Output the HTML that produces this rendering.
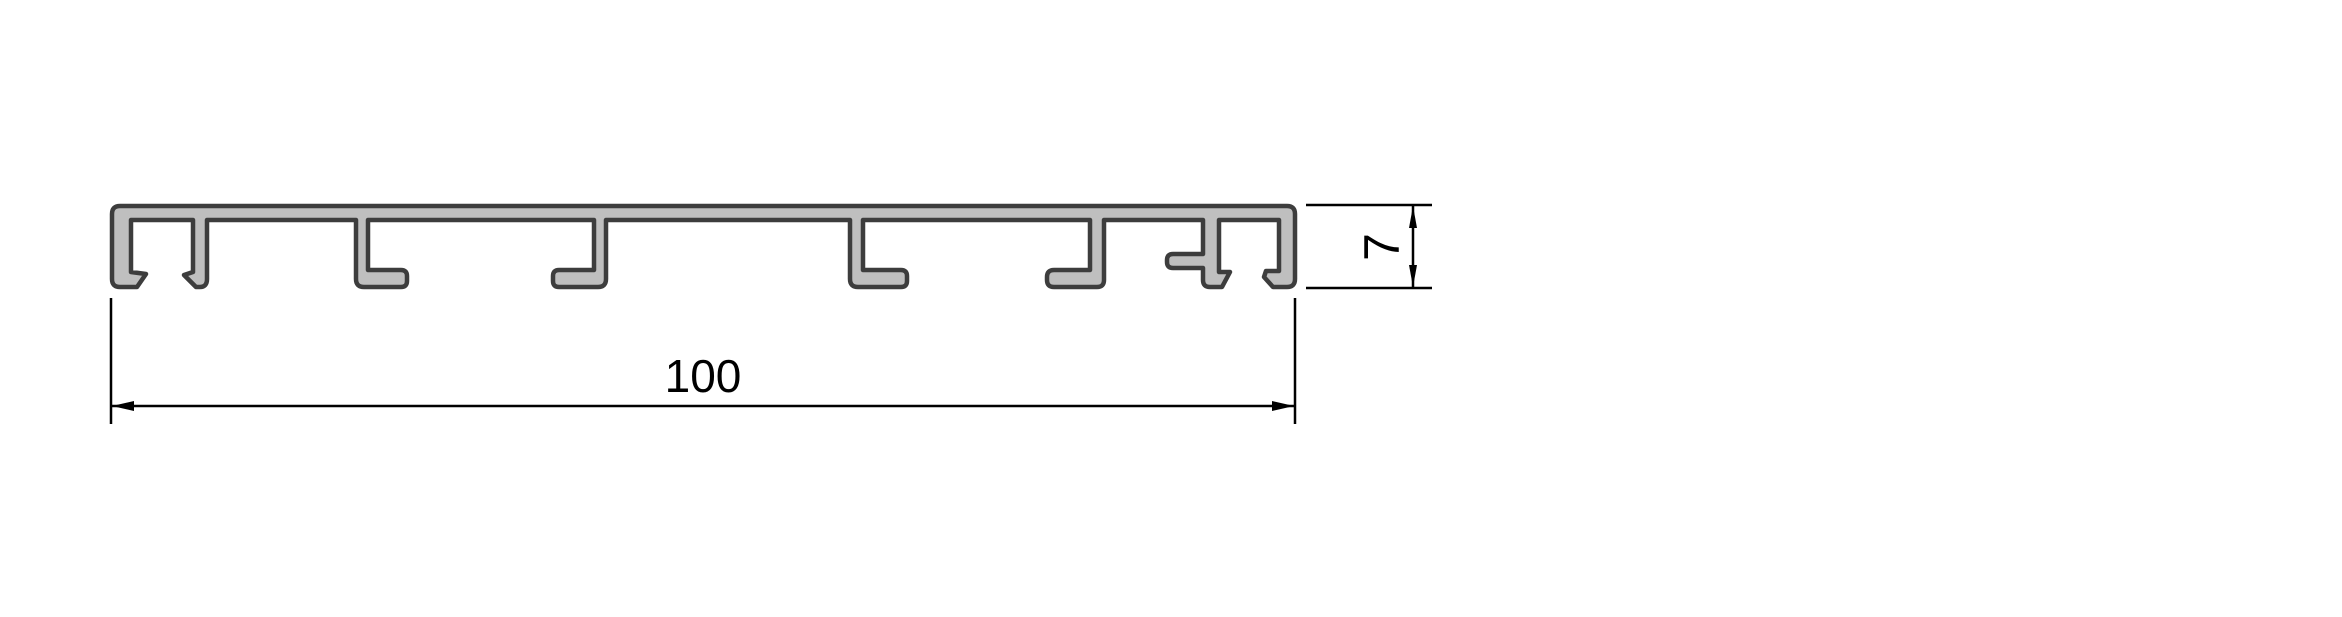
<!DOCTYPE html>
<html><head><meta charset="utf-8"><style>
html,body{margin:0;padding:0;background:#fff;}
svg{display:block;}
text{font-family:"Liberation Sans",Arial,sans-serif;}
</style></head><body>
<svg width="2342" height="617" viewBox="0 0 2342 617">
<path fill="#bfbfbf" stroke="#3d3d3d" stroke-width="4.5" stroke-linejoin="round"
d="M112,214 Q112,206 120,206 L1287,206 Q1295,206 1295,214 L1295,279 Q1295,287 1287,287 L1273,287 L1264,277 L1266,271 L1279,271 L1279,220
L1219,220 L1219,272 L1230,272 L1222,287 L1210,287 Q1203,287 1203,280 L1203,268 L1173,268 Q1167,268 1167,262 L1167,260 Q1167,254 1173,254 L1203,254 L1203,220
L1104,220 L1104,280 Q1104,287 1097,287 L1054,287 Q1047,287 1047,280 L1047,277 Q1047,270 1054,270 L1090,270 L1090,220
L863,220 L863,270 L901,270 Q907,270 907,276 L907,281 Q907,287 901,287 L858,287 Q850,287 850,279 L850,220
L606,220 L606,279 Q606,287 598,287 L559,287 Q553,287 553,281 L553,276 Q553,270 559,270 L594,270 L594,220
L368,220 L368,270 L401,270 Q407,270 407,276 L407,281 Q407,287 401,287 L364,287 Q356,287 356,279 L356,220
L207,220 L207,279 Q207,287 200,287 L196,287 L184,275 L193,272 L193,220
L131,220 L131,272 L146,274 L137,287 L120,287 Q112,287 112,279 Z"/>
<g stroke="#000" stroke-width="2.5">
<line x1="111" y1="298" x2="111" y2="424"/>
<line x1="1295" y1="298" x2="1295" y2="424"/>
<line x1="111" y1="406" x2="1295" y2="406"/>
</g>
<polygon points="112,406 134,401 134,411" fill="#000"/>
<polygon points="1294,406 1272,401 1272,411" fill="#000"/>
<text x="703" y="392" font-size="46" text-anchor="middle" fill="#000">100</text>
<g stroke="#000" stroke-width="2.5">
<line x1="1306" y1="205" x2="1432" y2="205"/>
<line x1="1306" y1="288" x2="1432" y2="288"/>
<line x1="1413" y1="205" x2="1413" y2="288"/>
</g>
<polygon points="1413,206 1409,228 1417,228" fill="#000"/>
<polygon points="1413,287 1409,265 1417,265" fill="#000"/>
<text x="0" y="0" font-size="50" text-anchor="middle" fill="#000" transform="translate(1399,247) rotate(-90)">7</text>
</svg>
</body></html>
